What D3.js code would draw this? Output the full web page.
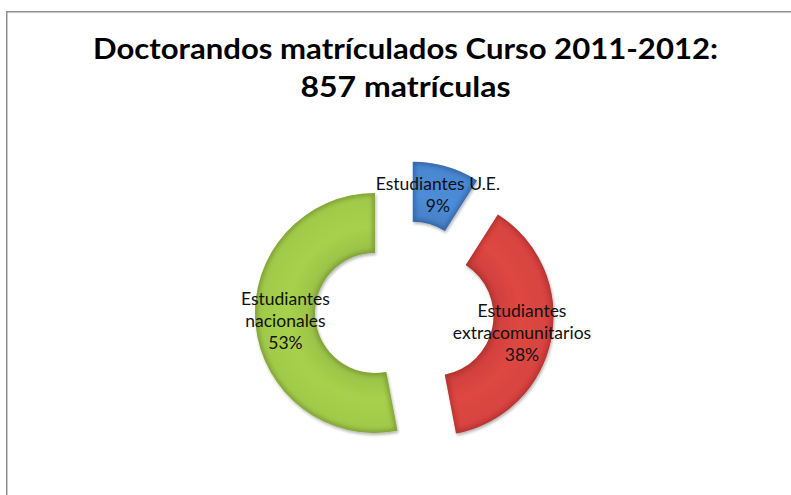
<!DOCTYPE html>
<html>
<head>
<meta charset="utf-8">
<script src="https://cdn.jsdelivr.net/npm/d3@7"></script>
<style>
  html, body { margin: 0; padding: 0; background: #ffffff; }
  svg { display: block; }
</style>
</head>
<body>
<svg id="chart" width="791" height="495"></svg>
<script>
// ---- data ----
const titleLines = ["Doctorandos matrículados Curso 2011-2012:", "857 matrículas"];
const categories = ["Estudiantes U.E.", "Estudiantes extracomunitarios", "Estudiantes nacionales"];
const categoryLines = [["Estudiantes U.E."], ["Estudiantes", "extracomunitarios"], ["Estudiantes", "nacionales"]];
const values = [9, 38, 53];
const percentLabels = ["9%", "38%", "53%"];
const colors = ["#4A86CF", "#D6433F", "#A0C84A"];
const rimColors = ["#24508C", "#962624", "#66822A"];

// ---- layout ----
const W = 791, H = 495;
const cx = 404.5, cy = 310.2;
const outerR = 120, innerR = 60, explode = 29.6;
const labelFont = "Lato, 'Open Sans', sans-serif";

const svg = d3.select("#chart");
const defs = svg.append("defs");

// chart area border (extends beyond the picture on right/bottom)
svg.append("rect")
  .attr("x", 6.75).attr("y", 11.75)
  .attr("width", W).attr("height", H)
  .attr("fill", "#ffffff")
  .attr("stroke", "#8f8f8f")
  .attr("stroke-width", 1.5);

// title
const titleFont = "Lato, 'Open Sans', sans-serif";
const titleWidths = [625, 210];
const titleBaselines = [59, 97];
titleLines.forEach((t, i) => {
  svg.append("text")
    .attr("x", 405.5)
    .attr("y", titleBaselines[i])
    .attr("text-anchor", "middle")
    .attr("font-family", titleFont)
    .attr("font-weight", "bold")
    .attr("font-size", 29)
    .attr("fill", "#000")
    .attr("textLength", titleWidths[i])
    .attr("lengthAdjust", "spacingAndGlyphs")
    .text(t);
});

// pie
const pie = d3.pie().sort(null).value(d => d.value).startAngle(0).endAngle(2 * Math.PI);
const data = categories.map((c, i) => ({ name: c, lines: categoryLines[i], value: values[i], pct: percentLabels[i], color: colors[i], rim: rimColors[i] }));
const arcs = pie(data);
const arc = d3.arc().innerRadius(innerR).outerRadius(outerR);

// blur filter for bevel rim
const blur = defs.append("filter").attr("id", "rimBlur")
  .attr("x", "-20%").attr("y", "-20%").attr("width", "140%").attr("height", "140%");
blur.append("feGaussianBlur").attr("stdDeviation", 2.2);

const shadow = defs.append("filter").attr("id", "dropShadow")
  .attr("x", "-20%").attr("y", "-20%").attr("width", "140%").attr("height", "140%");
shadow.append("feGaussianBlur").attr("in", "SourceAlpha").attr("stdDeviation", 1.5).attr("result", "b");
shadow.append("feOffset").attr("in", "b").attr("dx", 1).attr("dy", 1.5).attr("result", "o");
shadow.append("feComponentTransfer").attr("in", "o").attr("result", "s")
  .append("feFuncA").attr("type", "linear").attr("slope", 0.3);
const merge = shadow.append("feMerge");
merge.append("feMergeNode").attr("in", "s");
merge.append("feMergeNode").attr("in", "SourceGraphic");

const g = svg.append("g").attr("transform", `translate(${cx},${cy})`);

arcs.forEach((a, i) => {
  const mid = (a.startAngle + a.endAngle) / 2;
  const dx = explode * Math.sin(mid), dy = -explode * Math.cos(mid);
  const sg = g.append("g").attr("transform", `translate(${dx},${dy})`);
  const p = arc(a);
  defs.append("clipPath").attr("id", "clip" + i).append("path").attr("d", p);

  const grad = defs.append("radialGradient").attr("id", "grad" + i)
    .attr("gradientUnits", "userSpaceOnUse")
    .attr("cx", 0).attr("cy", 0).attr("r", outerR);
  const base = d3.color(a.data.color);
  grad.append("stop").attr("offset", "50%").attr("stop-color", base.darker(0.12));
  grad.append("stop").attr("offset", "72%").attr("stop-color", base.brighter(0.12));
  grad.append("stop").attr("offset", "100%").attr("stop-color", base);

  sg.append("path").attr("d", p).attr("fill", `url(#grad${i})`).attr("filter", "url(#dropShadow)");
  const clipped = sg.append("g").attr("clip-path", `url(#clip${i})`);
  clipped.append("path").attr("d", p)
    .attr("fill", "none")
    .attr("stroke", a.data.rim)
    .attr("stroke-width", 5)
    .attr("stroke-opacity", 0.6)
    .attr("filter", "url(#rimBlur)");

  // label at the arc centroid
  const [lx, ly] = arc.centroid(a);
  const lines = a.data.lines.concat([a.data.pct]);
  const lh = 22;
  const t = sg.append("text")
    .attr("text-anchor", "middle")
    .attr("font-family", labelFont)
    .attr("font-size", 17.5)
    .attr("fill", "#111");
  lines.forEach((ln, k) => {
    t.append("tspan")
      .attr("x", lx)
      .attr("y", ly + (k - (lines.length - 1) / 2) * lh + 6)
      .text(ln);
  });
});
</script>
</body>
</html>
